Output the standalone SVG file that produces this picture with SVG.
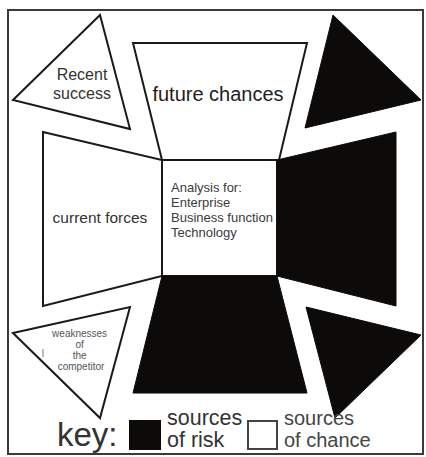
<svg xmlns="http://www.w3.org/2000/svg" width="426" height="457" viewBox="0 0 426 457">
<style>
.o{fill:#fff;stroke:#1a1a1a;stroke-width:2;stroke-linejoin:miter}
.b{fill:#0d0b09;stroke:#0d0b09;stroke-width:1}
text{font-family:"Liberation Sans",Arial,sans-serif}
.t{fill:#333}
</style>
<rect x="0" y="0" width="426" height="457" fill="#fff"/>
<rect id="frame" x="8" y="10" width="415" height="444" fill="#fff" stroke="#3a3a3a" stroke-width="2"/>
<g id="recent-success">
<polygon class="o" points="100,15 13,100 130,129"/>
<text class="t" x="82" y="80" font-size="16" text-anchor="middle" fill="#444">Recent</text>
<text class="t" x="82" y="99" font-size="16" text-anchor="middle" fill="#444">success</text>
</g>
<g id="future-chances">
<polygon class="o" points="133,43 307,43 279,160 162,160"/>
<text x="218" y="101" font-size="20" text-anchor="middle" fill="#222">future chances</text>
</g>
<g id="top-right-risk">
<polygon class="b" points="333,15 421,100 305,128"/>
</g>
<g id="current-forces">
<polygon class="o" points="43,132 162,160 162,276 43,306"/>
<text class="t" x="100" y="223" font-size="15.5" text-anchor="middle">current forces</text>
</g>
<g id="center">
<rect class="o" x="162" y="160" width="115" height="116"/>
<text font-size="13" fill="#3a3a3a">
<tspan x="171" y="192">Analysis for:</tspan>
<tspan x="171" y="207">Enterprise</tspan>
<tspan x="171" y="222">Business function</tspan>
<tspan x="171" y="237">Technology</tspan>
</text>
</g>
<g id="right-risk">
<polygon class="b" points="277,160 396,132 396,306 277,276"/>
</g>
<g id="bottom-risk">
<polygon class="b" points="162,276 277,276 307,393 133,393"/>
</g>
<g id="weaknesses">
<polygon class="o" points="13,333 130,307 100,418"/>
<text font-size="10" text-anchor="middle" fill="#555">
<tspan x="81" y="337">weaknesses</tspan>
<tspan x="81" y="348">of</tspan>
<tspan x="81" y="359">the</tspan>
<tspan x="81" y="370">competitor</tspan>
</text>
<line x1="43" y1="349" x2="43" y2="357" stroke="#777" stroke-width="1"/>
</g>
<g id="bottom-right-risk">
<polygon class="b" points="306,307 421,335 335,418"/>
</g>
<g id="key">
<text x="57" y="446" font-size="33" fill="#333">key:</text>
<rect x="130" y="421" width="30" height="28" fill="#0d0b09" stroke="#0d0b09" stroke-width="2"/>
<text x="167" y="425" font-size="21.5" fill="#333">sources</text>
<text x="167" y="447" font-size="21.5" fill="#333">of risk</text>
<rect x="248" y="421" width="29" height="28" fill="#fff" stroke="#444" stroke-width="2"/>
<text x="284" y="425" font-size="20" fill="#444">sources</text>
<text x="284" y="447" font-size="20" fill="#444">of chance</text>
</g>
</svg>
